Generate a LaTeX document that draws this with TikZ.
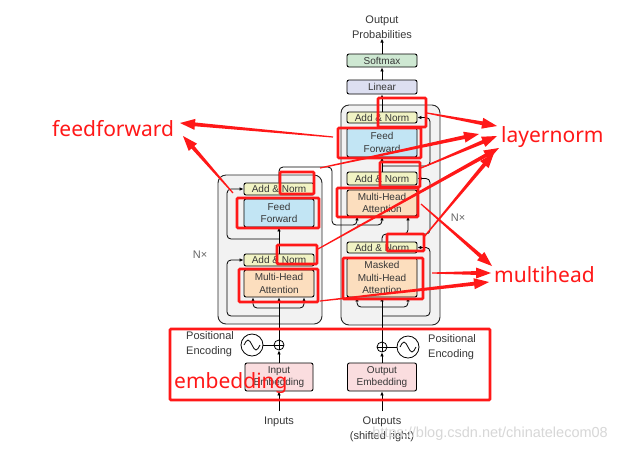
\documentclass[tikz,border=0pt]{standalone}
\usepackage{fontspec}
\setmainfont{Liberation Sans}
\newfontfamily\annfont{Noto Sans}
\usetikzlibrary{arrows.meta,calc}
\definecolor{anfill}{RGB}{241,243,196}
\definecolor{fffill}{RGB}{194,229,244}
\definecolor{mhfill}{RGB}{252,222,190}
\definecolor{emfill}{RGB}{250,221,223}
\definecolor{smfill}{RGB}{206,232,210}
\definecolor{lnfill}{RGB}{221,223,241}
\definecolor{outerfill}{RGB}{242,242,242}
\definecolor{annot}{RGB}{255,24,24}
\definecolor{txt}{RGB}{55,55,55}
\definecolor{wmark}{RGB}{215,215,215}
\tikzset{
  blk/.style={draw=black, line width=0.9pt, rounded corners=2pt, minimum width=70pt, inner sep=0pt, align=center, text=txt, font=\fontsize{10}{12.5}\selectfont},
  anbox/.style={blk, fill=anfill},
  ffbox/.style={blk, fill=fffill},
  mhbox/.style={blk, fill=mhfill},
  embox/.style={blk, fill=emfill, minimum width=68pt},
  smbox/.style={blk, fill=smfill},
  lnbox/.style={blk, fill=lnfill},
  outerbox/.style={draw=black!85, line width=0.9pt, fill=outerfill, rounded corners=8pt},
  conn/.style={draw=black, line width=0.8pt, -{Latex[length=4pt,width=3.6pt]}},
  plainline/.style={draw=black, line width=0.8pt},
  lbl/.style={text=txt, font=\fontsize{11}{15}\selectfont, inner sep=0pt, align=left},
  addc/.style={circle, draw=black, line width=0.8pt, minimum size=10pt, inner sep=0pt, fill=white},
  sinc/.style={circle, draw=black, line width=0.8pt, minimum size=22pt, inner sep=0pt, fill=white},
  redbox/.style={draw=annot, line width=2.6pt, rounded corners=1pt},
  redfill/.style={fill=annot},
  redlbl/.style={text=annot, font=\annfont\fontsize{21}{24}\selectfont, inner sep=0pt, anchor=west},
}
% tapered red arrow from #1 to #2 (named coordinates)
\newcommand\redarr[2]{%
  \coordinate (tmpB) at ($(#2)!15pt!(#1)$);
  \path[redfill] ($(#1)!0.6pt!90:(#2)$) -- ($(tmpB)!1.9pt!-90:(#1)$) -- ($(tmpB)!5.5pt!-90:(#1)$) -- (#2)
     -- ($(tmpB)!5.5pt!90:(#1)$) -- ($(tmpB)!1.9pt!90:(#1)$) -- ($(#1)!0.6pt!-90:(#2)$) -- cycle;}
\begin{document}
\begin{tikzpicture}[x=1pt,y=-1pt]
\useasboundingbox (0,0) rectangle (618,451);
\fill[white] (0,0) rectangle (618,451);
% outer boxes
\path[outerbox] (218,175) rectangle (322,324);
\path[outerbox] (341,105) rectangle (440,325);
% encoder
\node[mhbox, minimum height=27pt] (eMHA) at (279,283.5) {Multi-Head\\Attention};
\node[anbox, minimum height=12pt] (eAN1) at (279,260) {Add \& Norm};
\node[ffbox, minimum height=28pt] (eFF) at (279,213) {Feed\\Forward};
\node[anbox, minimum height=12pt] (eAN2) at (279,189) {Add \& Norm};
% decoder
\node[mhbox, minimum height=39pt] (dMMHA) at (382,277.5) {Masked\\Multi-Head\\Attention};
\node[anbox, minimum height=11pt] (dAN1) at (382,247.5) {Add \& Norm};
\node[mhbox, minimum height=26pt] (dMHA) at (382,203) {Multi-Head\\Attention};
\node[anbox, minimum height=13pt] (dAN2) at (382,178.5) {Add \& Norm};
\node[ffbox, minimum height=29pt] (dFF) at (382,142.5) {Feed\\Forward};
\node[anbox, minimum height=11pt] (dAN3) at (382,117.5) {Add \& Norm};
\node[lnbox, minimum height=14pt] (lin) at (382,87) {Linear};
\node[smbox, minimum height=13pt] (soft) at (382,60.5) {Softmax};
\node[lbl, align=center] (outp) at (382,27) {Output\\Probabilities};
% embeddings
\node[embox, minimum height=28pt] (iemb) at (279,377) {Input\\Embedding};
\node[embox, minimum height=28pt, minimum width=69pt] (oemb) at (382,377) {Output\\Embedding};
\node[addc] (eadd) at (279,345) {};
\node[sinc] (esin) at (252,345) {};
\node[addc] (dadd) at (382,347) {};
\node[sinc] (dsin) at (408,347) {};
\draw[plainline] (eadd.north) -- (eadd.south) (eadd.west) -- (eadd.east);
\draw[plainline] (dadd.north) -- (dadd.south) (dadd.west) -- (dadd.east);
\draw[plainline] ([xshift=-8pt]esin.center) sin ++(4,-5) cos ++(4,5) sin ++(4,5) cos ++(4,-5);
\draw[plainline] ([xshift=-8pt]dsin.center) sin ++(4,-5) cos ++(4,5) sin ++(4,5) cos ++(4,-5);
\draw[plainline] (esin) -- (eadd);
\draw[plainline] (dsin) -- (dadd);
% labels
\node[lbl] (inlbl) at (279,422) {Inputs};
\node[lbl, align=center] (outlbl) at (382,429.5) {Outputs\\(shifted right)};
\node[lbl, anchor=west] (epe) at (186,344.5) {Positional\\Encoding};
\node[lbl, anchor=west] (dpe) at (428,347) {Positional\\Encoding};
\node[lbl, text=black!60] (enx) at (200,255) {N×};
\node[lbl, text=black!60] (dnx) at (458,218) {N×};
\node[text=wmark, font=\fontsize{14.5}{16}\selectfont, anchor=east, inner sep=0pt] (wm) at (608,434) {https://blog.csdn.net/chinatelecom08};
% encoder connectors
\coordinate (inbot) at (279,411);
\draw[conn] (inbot) -- (iemb.south);
\draw[conn] (iemb.north) -- (eadd.south);
\draw[conn] (eadd.north) -- (eMHA.south);
\coordinate (eb0) at (279,308);
\coordinate (eqL) at (253,308);
\coordinate (eqR) at (304,308);
\draw[conn, rounded corners=4pt] (eb0) -- (eqL) -- (eqL |- eMHA.south);
\draw[conn, rounded corners=4pt] (eb0) -- (eqR) -- (eqR |- eMHA.south);
\coordinate (er1) at (279,316);
\coordinate (erx1) at (227,316);
\draw[conn, rounded corners=4pt] (er1) -- (erx1) -- (erx1 |- eAN1.west) -- (eAN1.west);
\draw[conn] (eAN1.north) -- (eFF.south);
\coordinate (er2) at (279,239);
\coordinate (erx2) at (227,239);
\draw[conn, rounded corners=4pt] (er2) -- (erx2) -- (erx2 |- eAN2.west) -- (eAN2.west);
\coordinate (eo1) at (279,167);
\coordinate (eo2) at (332,167);
\coordinate (eo3) at (332,225);
\coordinate (kv1) at (357,225);
\coordinate (kv2) at (382,225);
\draw[conn, rounded corners=4pt] (eAN2.north) -- (eo1) -- (eo2) -- (eo3) -- (kv1) -- (kv1 |- dMHA.south);
\draw[conn, rounded corners=4pt] (kv1) -- (kv2) -- (kv2 |- dMHA.south);
% decoder connectors
\coordinate (dinb) at (382,411);
\draw[conn] (dinb) -- (oemb.south);
\draw[conn] (oemb.north) -- (dadd.south);
\draw[conn] (dadd.north) -- (dMMHA.south);
\coordinate (db0) at (382,307);
\coordinate (dqL) at (357,307);
\coordinate (dqR) at (408,307);
\draw[conn, rounded corners=4pt] (db0) -- (dqL) -- (dqL |- dMMHA.south);
\draw[conn, rounded corners=4pt] (db0) -- (dqR) -- (dqR |- dMMHA.south);
\coordinate (dr1) at (382,316);
\coordinate (drx1) at (430,316);
\draw[conn, rounded corners=4pt] (dr1) -- (drx1) -- (drx1 |- dAN1.east) -- (dAN1.east);
\coordinate (ds1) at (382,234);
\coordinate (dqx) at (408,234);
\coordinate (drx2) at (430,234);
\draw[conn, rounded corners=4pt] (dAN1.north) -- (ds1) -- (dqx) -- (dqx |- dMHA.south);
\draw[conn, rounded corners=4pt] (dqx) -- (drx2) -- (drx2 |- dAN2.east) -- (dAN2.east);
\draw[conn] (dAN2.north) -- (dFF.south);
\coordinate (dr3) at (382,166);
\coordinate (drx3) at (430,166);
\draw[conn, rounded corners=4pt] (dr3) -- (drx3) -- (drx3 |- dAN3.east) -- (dAN3.east);
\draw[conn] (dAN3.north) -- (lin.south);
\draw[conn] (lin.north) -- (soft.south);
\draw[conn] (soft.north) -- (outp.south);
% red annotation boxes
\draw[redbox] (170,329) rectangle (490,400);
\draw[redbox] (237,198) rectangle (319,228);
\draw[redbox] (239,269) rectangle (318,302);
\draw[redbox] (280,172) rectangle (314,194);
\draw[redbox] (277,245) rectangle (317,264);
\draw[redbox] (378,98) rectangle (426,127);
\draw[redbox] (338,128) rectangle (421,158);
\draw[redbox] (380,162) rectangle (420,187);
\draw[redbox] (337,188) rectangle (418,217);
\draw[redbox] (387,234) rectangle (424,251);
\draw[redbox] (343,258) rectangle (423,299);
% red labels
\node[redlbl] (ffl) at (52,129) {feedforward};
\node[redlbl] (lnl) at (501,137) {layernorm};
\node[redlbl] (mhl) at (494,275) {multihead};
\node[redlbl] (eml) at (174,383) {embedding};
% red arrows
\coordinate (fa1) at (333,137); \coordinate (fb1) at (180,123);
\coordinate (fa2) at (233,193); \coordinate (fb2) at (183,136);
\redarr{fa1}{fb1}
\redarr{fa2}{fb2}
\coordinate (la1) at (427,113); \coordinate (lb1) at (497,126);
\coordinate (la2) at (320,168); \coordinate (lb2) at (479,134);
\coordinate (la3) at (421,168); \coordinate (lb3) at (497,136);
\coordinate (la4) at (318,249); \coordinate (lb4) at (499,148);
\coordinate (la5) at (424,237); \coordinate (lb5) at (494,153);
\redarr{la1}{lb1}
\redarr{la2}{lb2}
\redarr{la3}{lb3}
\redarr{la4}{lb4}
\redarr{la5}{lb5}
\coordinate (ma1) at (421,204); \coordinate (mb1) at (492,266);
\coordinate (ma2) at (432,273); \coordinate (mb2) at (491,273);
\coordinate (ma3) at (320,301); \coordinate (mb3) at (489,282);
\redarr{ma1}{mb1}
\redarr{ma2}{mb2}
\redarr{ma3}{mb3}
\end{tikzpicture}
\end{document}
